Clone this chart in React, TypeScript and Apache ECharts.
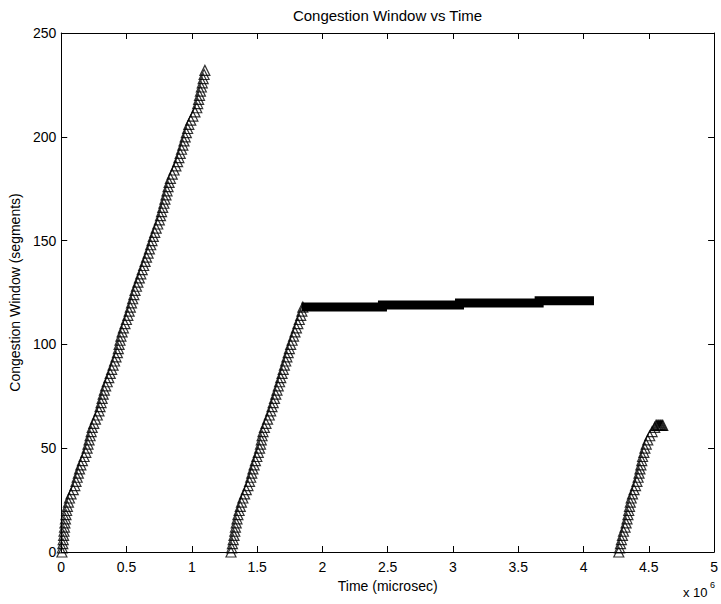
import React, { useEffect, useRef } from "react";
import * as echarts from "echarts";

// Time values are in units of 10^6 microseconds (axis shows "x 10^6")
const xTicks = [0, 0.5, 1, 1.5, 2, 2.5, 3, 3.5, 4, 4.5, 5];
const yTicks = [0, 50, 100, 150, 200, 250];

// First growth phase: [time, congestion window]
const ramp1: [number, number][] = [
  [0.005, 0], [0.008, 2], [0.012, 4], [0.015, 6], [0.018, 8], [0.021, 10], [0.025, 12], [0.028, 14],
  [0.032, 16], [0.036, 18], [0.041, 20], [0.047, 22], [0.055, 24], [0.063, 26], [0.075, 28], [0.092, 30],
  [0.104, 32], [0.113, 34], [0.122, 36], [0.131, 38], [0.14, 40], [0.15, 42], [0.162, 44], [0.175, 46],
  [0.188, 48], [0.198, 50], [0.205, 52], [0.213, 54], [0.221, 56], [0.229, 58], [0.237, 60], [0.249, 62],
  [0.262, 64], [0.276, 66], [0.289, 68], [0.297, 70], [0.305, 72], [0.313, 74], [0.321, 76], [0.33, 78],
  [0.34, 80], [0.352, 82], [0.364, 84], [0.375, 86], [0.386, 88], [0.397, 90], [0.408, 92], [0.419, 94],
  [0.43, 96], [0.437, 98], [0.443, 100], [0.45, 102], [0.457, 104], [0.466, 106], [0.476, 108], [0.488, 110],
  [0.499, 112], [0.51, 114], [0.52, 116], [0.529, 118], [0.538, 120], [0.547, 122], [0.556, 124], [0.565, 126],
  [0.576, 128], [0.587, 130], [0.598, 132], [0.609, 134], [0.62, 136], [0.631, 138], [0.642, 140], [0.653, 142],
  [0.665, 144], [0.675, 146], [0.685, 148], [0.695, 150], [0.705, 152], [0.716, 154], [0.727, 156], [0.739, 158],
  [0.751, 160], [0.76, 162], [0.768, 164], [0.777, 166], [0.786, 168], [0.794, 170], [0.802, 172], [0.81, 174],
  [0.818, 176], [0.826, 178], [0.836, 180], [0.85, 182], [0.864, 184], [0.878, 186], [0.891, 188], [0.901, 190],
  [0.911, 192], [0.921, 194], [0.931, 196], [0.94, 198], [0.949, 200], [0.958, 202], [0.968, 204], [0.977, 206],
  [0.992, 208], [1.008, 210], [1.024, 212], [1.038, 214], [1.045, 216], [1.052, 218], [1.059, 220], [1.066, 222],
  [1.073, 224], [1.08, 226], [1.087, 228], [1.094, 230], [1.1, 232],
];

// Second growth phase
const ramp2: [number, number][] = [
  [1.3, 0], [1.305, 2], [1.311, 4], [1.317, 6], [1.323, 8], [1.329, 10], [1.334, 12], [1.34, 14],
  [1.346, 16], [1.353, 18], [1.362, 20], [1.371, 22], [1.38, 24], [1.391, 26], [1.404, 28], [1.417, 30],
  [1.43, 32], [1.442, 34], [1.451, 36], [1.459, 38], [1.468, 40], [1.477, 42], [1.487, 44], [1.498, 46],
  [1.509, 48], [1.519, 50], [1.526, 52], [1.532, 54], [1.538, 56], [1.545, 58], [1.556, 60], [1.568, 62],
  [1.58, 64], [1.593, 66], [1.604, 68], [1.614, 70], [1.623, 72], [1.633, 74], [1.643, 76], [1.652, 78],
  [1.662, 80], [1.672, 82], [1.681, 84], [1.691, 86], [1.7, 88], [1.709, 90], [1.719, 92], [1.728, 94],
  [1.738, 96], [1.747, 98], [1.757, 100], [1.768, 102], [1.779, 104], [1.79, 106], [1.801, 108], [1.812, 110],
  [1.823, 112], [1.834, 114], [1.843, 116], [1.85, 118],
];

// Plateau after the second growth phase (densely overlapping markers)
const plateau: [number, number][] = [
  [1.84, 118], [2.46, 119], [3.05, 120], [3.66, 121], [4.08, 121],
];

// Third growth phase
const ramp3: [number, number][] = [
  [4.27, 0], [4.276, 2], [4.283, 4], [4.29, 6], [4.298, 8], [4.306, 10], [4.318, 12], [4.326, 14],
  [4.333, 16], [4.34, 18], [4.346, 20], [4.352, 22], [4.358, 24], [4.365, 26], [4.375, 28], [4.387, 30],
  [4.398, 32], [4.409, 34], [4.418, 36], [4.425, 38], [4.432, 40], [4.439, 42], [4.446, 44], [4.452, 46],
  [4.462, 48], [4.47, 50], [4.48, 52], [4.492, 54], [4.507, 56], [4.525, 58], [4.545, 60],
  [4.555, 61], [4.562, 61], [4.57, 61], [4.577, 61], [4.585, 61], [4.592, 61], [4.6, 61], [4.607, 61],
];

const FONT = "Liberation Sans, Arial, Helvetica, sans-serif";

export default function App() {
  const ref = useRef<HTMLDivElement>(null);
  useEffect(() => {
    if (!ref.current) return;
    const chart = echarts.init(ref.current, undefined, { renderer: "svg" });
    const axisCommon = {
      type: "value" as const,
      axisLine: { show: true, onZero: false, lineStyle: { color: "#000", width: 1 } },
      axisTick: { show: true, inside: true, length: 6, lineStyle: { color: "#000" } },
      splitLine: { show: false },
    };
    const markerStyle = {
      color: "rgba(0,0,0,0)",
      borderColor: "#000",
      borderWidth: 1.2,
    };
    const scatter = (data: [number, number][]) => ({
      type: "scatter" as const,
      data,
      symbol: "triangle",
      symbolSize: 10,
      itemStyle: markerStyle,
      xAxisIndex: 0,
      yAxisIndex: 0,
      silent: true,
    });
    chart.setOption({
      animation: false,
      backgroundColor: "#fff",
      textStyle: { fontFamily: FONT },
      grid: { left: 59, right: 5, top: 33, bottom: 52 },
      xAxis: [
        {
          ...axisCommon,
          position: "bottom",
          min: xTicks[0],
          max: xTicks[xTicks.length - 1],
          interval: 0.5,
          axisLabel: { color: "#000", fontSize: 14, fontFamily: FONT, margin: 8 },
          name: "Time (microsec)",
          nameLocation: "middle",
          nameGap: 26,
          nameTextStyle: { color: "#000", fontSize: 14, fontFamily: FONT },
        },
        {
          ...axisCommon,
          position: "top",
          min: xTicks[0],
          max: xTicks[xTicks.length - 1],
          interval: 0.5,
          axisLabel: { show: false },
        },
      ],
      yAxis: [
        {
          ...axisCommon,
          position: "left",
          min: yTicks[0],
          max: yTicks[yTicks.length - 1],
          interval: 50,
          axisLabel: { color: "#000", fontSize: 14, fontFamily: FONT, margin: 5 },
          name: "Congestion Window (segments)",
          nameLocation: "middle",
          nameGap: 28,
          nameTextStyle: { color: "#000", fontSize: 14, fontFamily: FONT },
        },
        {
          ...axisCommon,
          position: "right",
          min: yTicks[0],
          max: yTicks[yTicks.length - 1],
          interval: 50,
          axisLabel: { show: false },
        },
      ],
      graphic: [
        {
          type: "text",
          x: 387.5,
          y: 15,
          style: {
            text: "Congestion Window vs Time",
            fill: "#000",
            font: `15px ${FONT}`,
            textAlign: "center",
            textVerticalAlign: "middle",
          },
        },
        {
          type: "text",
          x: 683,
          y: 592,
          style: {
            text: "x 10",
            fill: "#000",
            font: `13px ${FONT}`,
            textAlign: "left",
            textVerticalAlign: "middle",
          },
        },
        {
          type: "text",
          x: 710,
          y: 585,
          style: {
            text: "6",
            fill: "#000",
            font: `9px ${FONT}`,
            textAlign: "left",
            textVerticalAlign: "middle",
          },
        },
      ],
      series: [
        scatter(ramp1),
        scatter(ramp2),
        {
          type: "line",
          data: plateau,
          step: "end",
          showSymbol: false,
          lineStyle: { color: "#000", width: 9, cap: "butt", join: "miter" },
          xAxisIndex: 0,
          yAxisIndex: 0,
          silent: true,
        },
        scatter(ramp3),
      ],
    });
    return () => chart.dispose();
  }, []);
  return (
    <div
      ref={ref}
      style={{ position: "fixed", left: 0, top: 0, width: 721, height: 604, background: "#fff" }}
    />
  );
}
